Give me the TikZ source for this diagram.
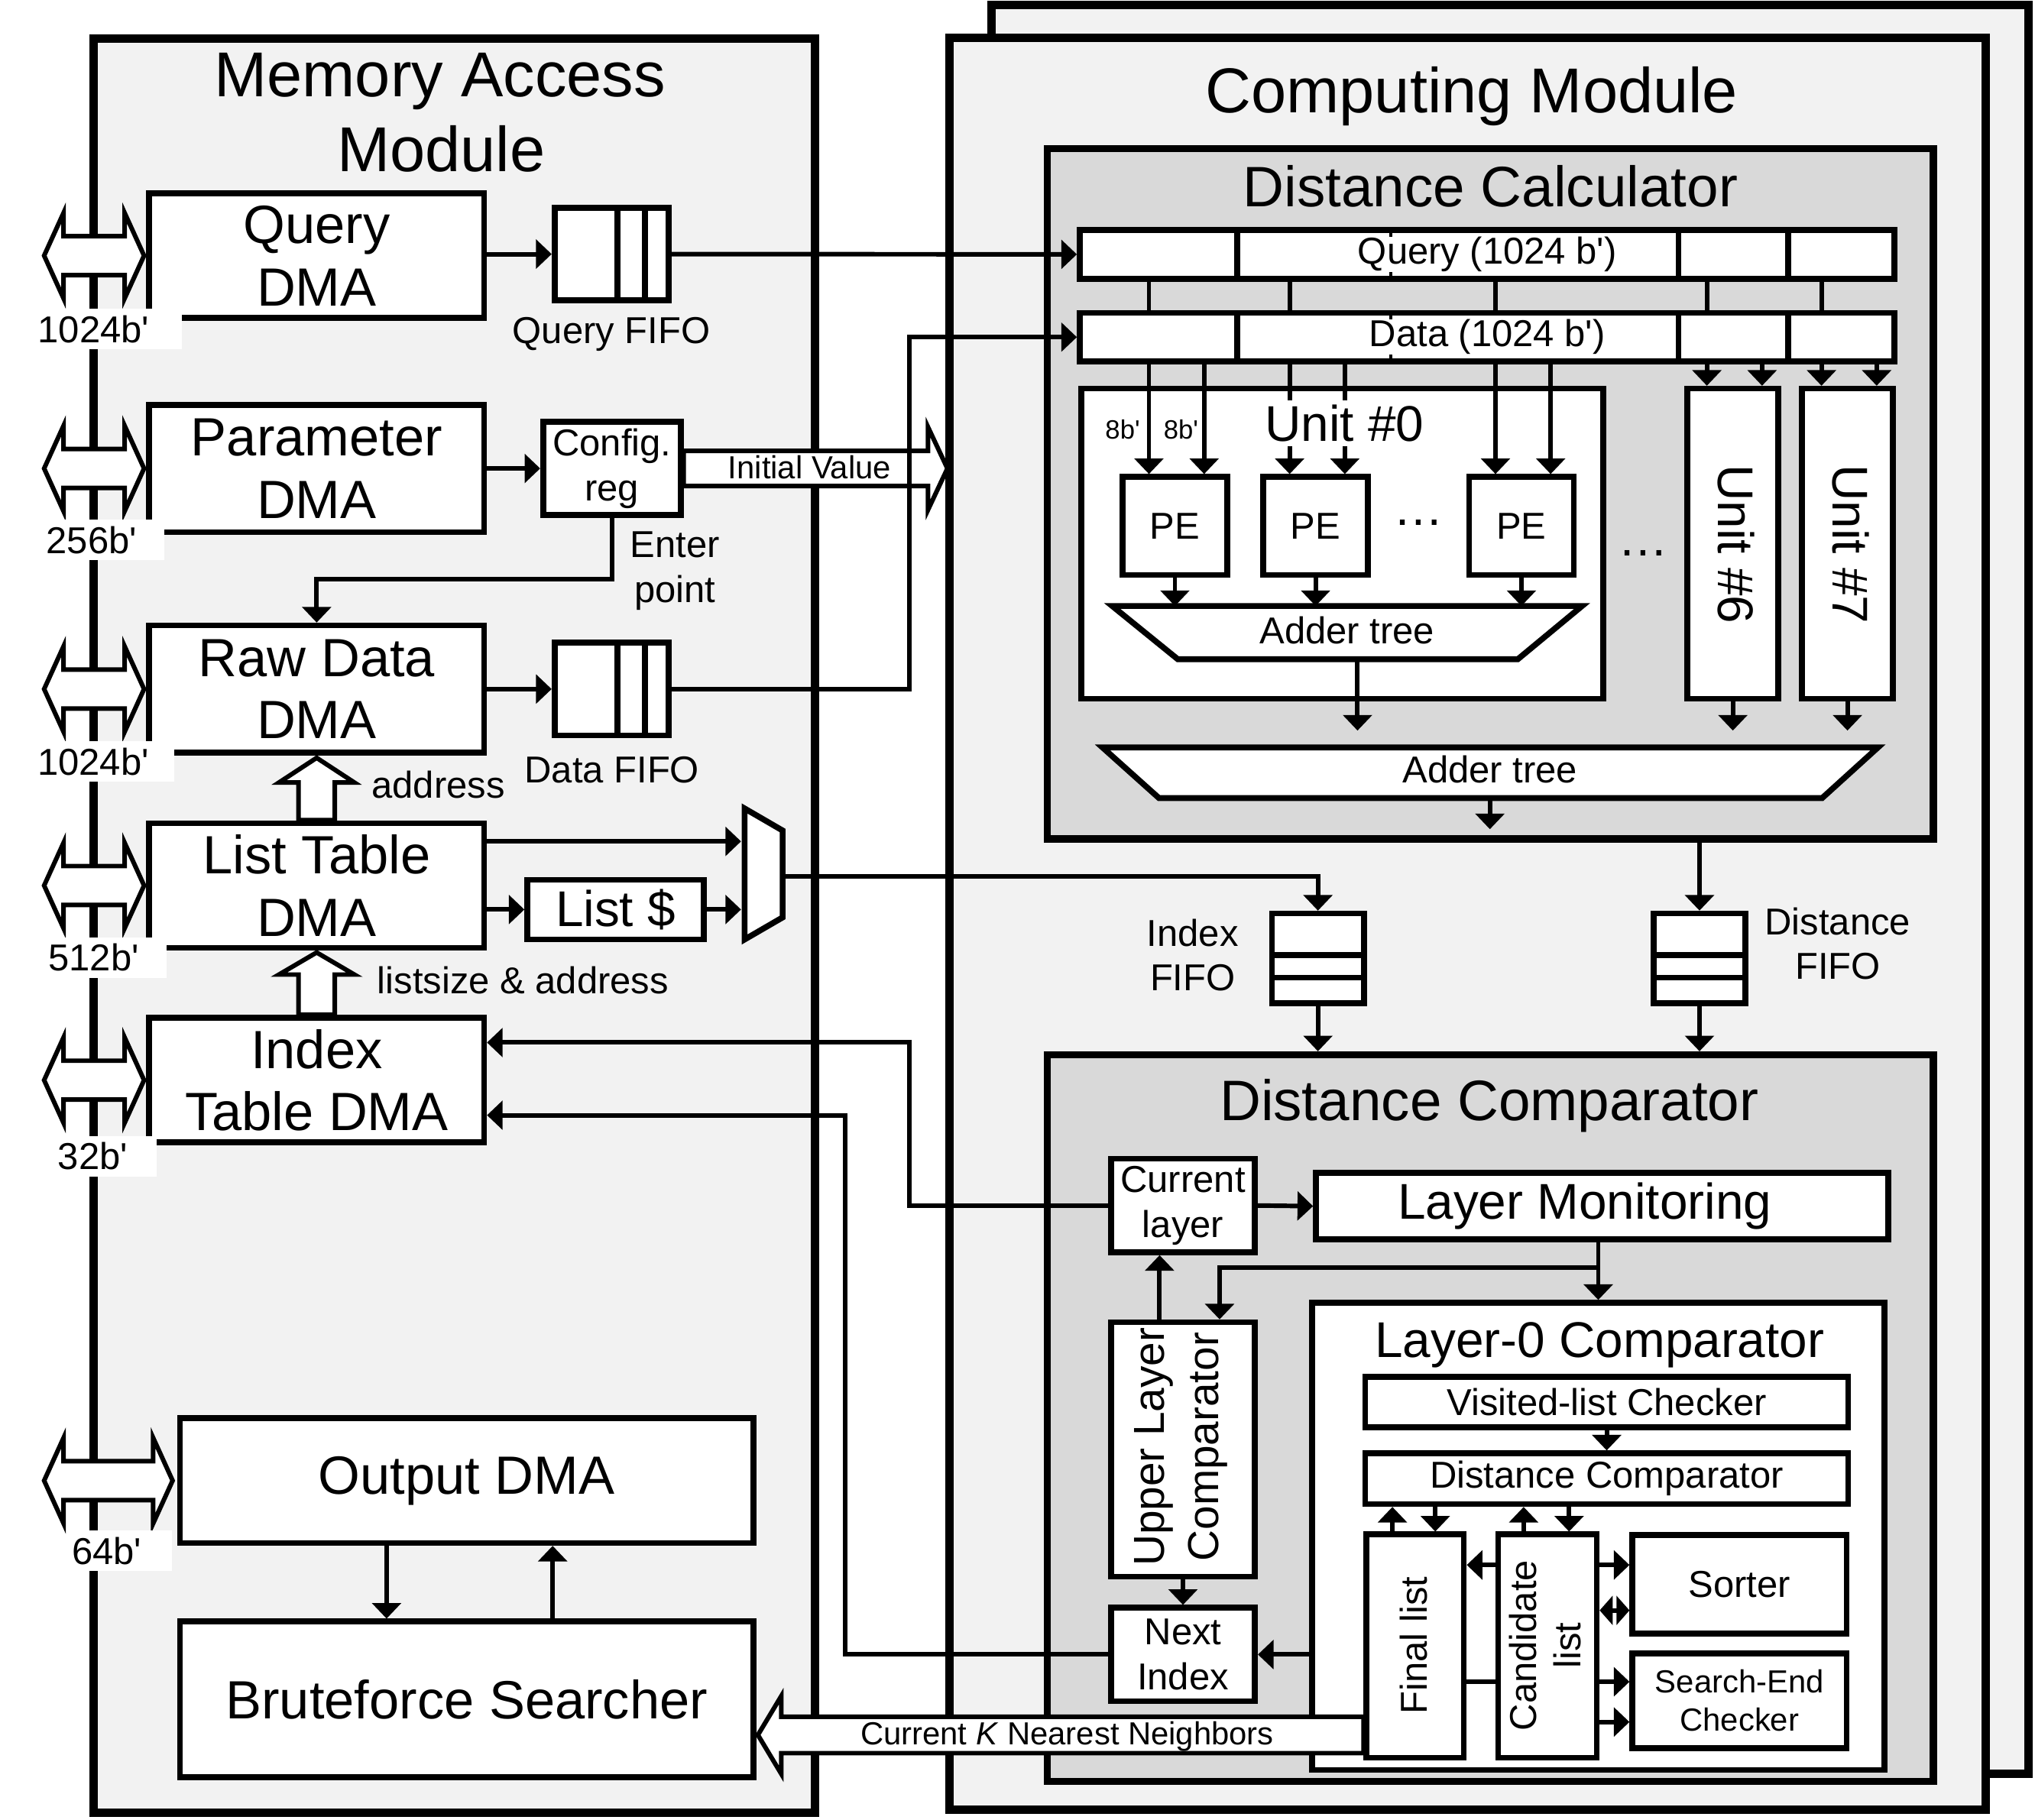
\documentclass[tikz,border=0pt]{standalone}
\usepackage{fontspec}
\setmainfont{Liberation Sans}
\usepackage{tikz}
\usetikzlibrary{arrows.meta, positioning}

\definecolor{panelgray}{HTML}{F2F2F2}
\definecolor{blockgray}{HTML}{D9D9D9}

% double headed port arrow: y, left tip, right tip
\newcommand{\busarrow}[3]{%
  \draw[hollow] (#2,#1) -- (#2+15,#1-33) -- (#2+15,#1-15) -- (#3-15,#1-15)
    -- (#3-15,#1-33) -- (#3,#1) -- (#3-15,#1+33) -- (#3-15,#1+15)
    -- (#2+15,#1+15) -- (#2+15,#1+33) -- cycle;}

\tikzset{
  sz/.style 2 args={minimum width=#1*0.01cm, minimum height=#2*0.01cm},
  blk/.style={draw, line width=0.045cm, fill=white, inner sep=0pt, align=center},
  modbox/.style={draw, line width=0.065cm, fill=panelgray, inner sep=0pt},
  subbox/.style={draw, line width=0.055cm, fill=blockgray, inner sep=0pt},
  wire/.style={line width=0.035cm},
  arr/.style={wire, -{Triangle[length=0.12cm, width=0.22cm]}},
  dblarr/.style={wire, {Triangle[length=0.1cm, width=0.22cm]}-{Triangle[length=0.1cm, width=0.22cm]}},
  hollow/.style={draw, line width=0.035cm, fill=white, line join=miter},
  buslbl/.style={fill=white, anchor=west, align=left, inner xsep=0.03cm, inner ysep=0.05cm},
  hfifo/.style={blk, path picture={
    \draw[line width=0.045cm]
      ([xshift=-0.394cm]path picture bounding box.north east) -- ([xshift=-0.394cm]path picture bounding box.south east)
      ([xshift=-0.184cm]path picture bounding box.north east) -- ([xshift=-0.184cm]path picture bounding box.south east);}},
  vfifo/.style={blk, path picture={
    \draw[line width=0.045cm]
      ([yshift=0.37cm]path picture bounding box.south west) -- ([yshift=0.37cm]path picture bounding box.south east)
      ([yshift=0.196cm]path picture bounding box.south west) -- ([yshift=0.196cm]path picture bounding box.south east);}},
  reg/.style={blk, path picture={
    \foreach \dx/\lw in {1.213/0.045cm, 2.396/0.025cm, 4.61/0.045cm, 5.455/0.045cm}
      \draw[line width=\lw] ([xshift=\dx cm]path picture bounding box.south west) -- ([xshift=\dx cm]path picture bounding box.north west);}},
  ftitle/.style={font=\fontsize{13.9}{16.7}\selectfont},
  fhead/.style={font=\fontsize{12.5}{15}\selectfont},
  fbox/.style={font=\fontsize{11.8}{13.7}\selectfont},
  fmid/.style={font=\fontsize{11}{13.2}\selectfont},
  fulc/.style={font=\fontsize{9.5}{12}\selectfont},
  fsml/.style={font=\fontsize{8.2}{9.8}\selectfont},
  fnote/.style={font=\fontsize{7}{8.3}\selectfont},
  fmicro/.style={font=\fontsize{5.8}{7}\selectfont},
}

\begin{document}
\begin{tikzpicture}[x=0.01cm, y=-0.01cm, every node/.style={align=center}]
    \useasboundingbox (0,0) rectangle (1568,1402);

    % 1. Modules
    \node[modbox, sz={799}{1363}] (cmback) at (1163.5,685.5) {};
    \node[modbox, sz={798.5}{1365.5}] (cm) at (1130.75,711.75) {};
    \node[modbox, sz={556}{1367}] (mam) at (350,713.5) {};
    \node[ftitle, anchor=base] (mamt1) at (339,74.4) {Memory Access};
    \node[ftitle, anchor=base] (mamt2) at (340,132) {Module};
    \node[ftitle, anchor=base] (cmt) at (1134,87) {Computing Module};

    % 2. Memory ports
    \busarrow{197}{34}{111}
    \busarrow{361}{34}{111}
    \busarrow{531}{34}{111}
    \busarrow{682.4}{34}{111}
    \busarrow{832.4}{34}{111}
    \busarrow{1141}{34}{133}

    % 3. DMA engines
    \node[blk, fbox, sz={258}{96}] (qdma) at (244,197) {Query\\DMA};
    \node[blk, fbox, sz={258}{98}] (pdma) at (244,361) {Parameter\\DMA};
    \node[blk, fbox, sz={258}{98}] (rdma) at (244,531) {Raw Data\\DMA};
    \node[blk, fbox, sz={258}{96}] (ldma) at (244,682.4) {List Table\\DMA};
    \node[blk, fbox, sz={258}{96}] (idma) at (244,832.4) {Index\\Table DMA};
    \node[blk, fbox, sz={442}{96}] (odma) at (359.6,1141) {Output DMA};
    \node[blk, fbox, sz={442}{120}] (bfs) at (359.6,1309.6) {Bruteforce Searcher};

    % 4. Buffers
    \node[hfifo, sz={88}{71.5}] (qfifo) at (471.3,195.8) {};
    \node[hfifo, sz={88}{71.5}] (dfifo) at (471.3,531) {};
    \node[blk, fsml, sz={106}{72}] (cfg) at (471.5,361) {Config.\\reg};
    \node[blk, fmid, sz={136}{46}] (lcache) at (474.3,700.9) {List \$};
    \draw[line width=0.045cm, fill=white] (573.7,623) -- (603,640) -- (603,707) -- (573.7,724) -- cycle;
    \coordinate (muxa) at (571,648.4);
    \coordinate (muxb) at (571,700.9);
    \coordinate (muxo) at (603,675.5);
    \node[fsml, anchor=base] (qfifol) at (471,264.5) {Query FIFO};
    \node[fsml, anchor=base] (dfifol) at (471.5,603) {Data FIFO};
    \node[fsml] (enterl) at (520,440) {Enter\\point};
    \node[fsml, anchor=base] (addrl) at (337.7,615) {address};
    \node[fsml, anchor=base] (lsizel) at (403,766) {listsize \& address};

    % 5. Wires inside the memory module
    \draw[arr] (qdma.east |- qfifo.west) -- (qfifo.west);
    \draw[arr] (pdma.east) -- (cfg.west);
    \draw[arr] (rdma.east) -- (dfifo.west);
    \draw[arr] (cfg.south) -- ++(0,47) -| (rdma.north);
    \draw[arr] (ldma.east |- muxa) -- (muxa);
    \draw[arr] (ldma.east |- lcache.west) -- (lcache.west);
    \draw[arr] (lcache.east) -- (muxb);
    \draw[arr] ([xshift=-0.617cm]odma.south) -- ([xshift=-0.617cm]odma.south |- bfs.north);
    \draw[arr] ([xshift=0.662cm]bfs.north) -- ([xshift=0.662cm]bfs.north |- odma.south);

    % 6. Distance calculator
    \node[subbox, sz={682.7}{531.8}] (dcalc) at (1148.3,380.5) {};
    \node[fhead, anchor=base] (dcalct) at (1148.5,159) {Distance Calculator};
    \node[reg, sz={627.5}{37.5}] (qreg) at (1145.75,196) {};
    \node[blk, sz={402.5}{239}] (unit0) at (1034.25,419) {};
    \node[blk, fsml, sz={80.6}{75.5}] (pe1) at (905.3,405.3) {PE};
    \node[blk, fsml, sz={80.6}{75.5}] (pe2) at (1013.7,405.3) {PE};
    \node[blk, fsml, sz={80.6}{75.5}] (pe3) at (1172.3,405.3) {PE};
    \node[blk, sz={70}{239}] (u6) at (1335.2,419) {};
    \node[blk, sz={70}{239}] (u7) at (1423.5,419) {};
    \foreach \u in {pe1,pe2,pe3,u6,u7}
        \draw[arr] ([xshift=-0.2cm]\u.north |- qreg.south) -- ([xshift=-0.2cm]\u.north);
    \node[reg, sz={627.5}{37.5}] (dreg) at (1145.75,259.8) {};
    \foreach \u in {pe1,pe2,pe3,u6,u7}
        \draw[arr] ([xshift=0.225cm]\u.north |- dreg.south) -- ([xshift=0.225cm]\u.north);
    \node[fsml, fill=white, inner sep=0pt] (qregt) at (1146,196) {Query (1024 b\textquotesingle)};
    \node[fsml, fill=white, inner sep=0pt] (dregt) at (1146,259.8) {Data (1024 b\textquotesingle)};
    \node[fmicro] (w8a) at (865,331) {8b\textquotesingle};
    \node[fmicro] (w8b) at (910,331) {8b\textquotesingle};
    \node[fmid, fill=white, inner sep=1pt, anchor=base] (unit0t) at (1036,340) {Unit \#0};
    \node[fmid] (pedots) at (1093,403) {\dots};
    \node[fmid] (udots) at (1266,426) {\dots};
    \node[fmid, rotate=-90] (u6t) at (1338,419.4) {Unit \#6};
    \node[fmid, rotate=-90] (u7t) at (1426,419.4) {Unit \#7};

    \draw[line width=0.045cm, fill=white] (857,467) -- (1219,467) -- (1169.5,508) -- (907.5,508) -- cycle;
    \node[fsml, anchor=base] (add0) at (1038,496) {Adder tree};
    \coordinate (atin) at (1038,467);
    \foreach \u in {pe1,pe2,pe3}
        \draw[arr] (\u.south) -- (\u.south |- atin);
    \coordinate (atout) at (1046,508);
    \coordinate (sumin) at (1148,563);
    \draw[arr] (atout) -- (atout |- sumin);
    \draw[arr] (u6.south) -- (u6.south |- sumin);
    \draw[arr] (u7.south) -- (u7.south |- sumin);
    \draw[line width=0.045cm, fill=white] (849.5,576) -- (1447,576) -- (1404,615) -- (893,615) -- cycle;
    \node[fsml, anchor=base] (add1) at (1148,603.3) {Adder tree};
    \coordinate (sumout) at (1148,615);
    \draw[arr] (sumout) -- ++(0,24);

    % 7. Result FIFOs
    \node[vfifo, sz={71}{69}] (ififo) at (1015.5,738.5) {};
    \node[vfifo, sz={71}{69}] (distf) at (1309.5,738.5) {};
    \node[fsml] (ififol) at (919,736) {Index\\FIFO};
    \node[fsml] (distfl) at (1416,727.3) {Distance\\FIFO};
    \draw[arr] (muxo) -| (ififo.north);
    \draw[arr] (dcalc.south -| distf.north) -- (distf.north);

    % 8. Distance comparator
    \node[subbox, sz={682.7}{560}] (dcomp) at (1148.3,1092.9) {};
    \draw[arr] (ififo.south) -- (ififo.south |- dcomp.north);
    \draw[arr] (distf.south) -- (distf.south |- dcomp.north);
    \node[fhead, anchor=base] (dcompt) at (1147.5,863.4) {Distance Comparator};
    \node[blk, fsml, sz={111}{72}] (curl) at (911.5,929) {Current\\layer};
    \node[blk, sz={441}{51}] (laymon) at (1234.5,929.5) {};
    \node[fmid] (laymont) at (1221,929.5) {Layer Monitoring};
    \node[blk, sz={111}{196}] (ulc) at (911.5,1117) {};
    \node[fulc, rotate=90] (ulct) at (910,1115) {Upper Layer\\Comparator};
    \node[blk, fsml, sz={111}{72}] (nidx) at (911.5,1275) {Next\\Index};
    \node[blk, sz={441}{360}] (lzero) at (1231.5,1184) {};
    \node[fmid, anchor=base] (lzerot) at (1232.6,1045.9) {Layer-0 Comparator};
    \node[blk, fsml, sz={372}{39}] (visit) at (1238,1080.5) {Visited-list Checker};
    \node[blk, fsml, sz={372}{39}] (dcin) at (1238,1139.5) {Distance Comparator};
    \node[blk, sz={75}{172}] (final) at (1090.4,1268.5) {};
    \node[fsml, rotate=90] (finalt) at (1089,1268) {Final list};
    \node[blk, sz={76}{172}] (cand) at (1192.3,1268.5) {};
    \node[fsml, rotate=90] (candt) at (1190.6,1268) {Candidate\\list};
    \node[blk, fsml, sz={165}{76}] (sorter) at (1340.3,1221) {Sorter};
    \node[blk, fnote, sz={165}{73}] (sechk) at (1340.3,1310.5) {Search-End\\Checker};

    \draw[arr] (curl.east) -- (laymon.west);
    \coordinate (brk) at (1231.5,977);
    \draw[arr] (lzero.north |- laymon.south) -- (lzero.north);
    \draw[arr] (brk) -| ([xshift=0.282cm]ulc.north);
    \draw[arr] ([xshift=-0.18cm]ulc.north) -- ([xshift=-0.18cm]ulc.north |- curl.south);
    \draw[arr] (ulc.south) -- (nidx.north);
    \draw[arr] (lzero.west |- nidx.east) -- (nidx.east);
    \draw[arr] (visit.south) -- (dcin.north);
    \draw[arr] ([xshift=-0.175cm]final.north) -- ([xshift=-0.175cm]final.north |- dcin.south);
    \draw[arr] ([xshift=0.155cm]final.north |- dcin.south) -- ([xshift=0.155cm]final.north);
    \draw[arr] ([xshift=-0.183cm]cand.north) -- ([xshift=-0.183cm]cand.north |- dcin.south);
    \draw[arr] ([xshift=0.167cm]cand.north |- dcin.south) -- ([xshift=0.167cm]cand.north);
    \draw[arr] (cand.west |- 0,1206) -- (final.east |- 0,1206);
    \draw[wire] (final.east |- 0,1296) -- (cand.west |- 0,1296);
    \draw[arr] (cand.east |- 0,1206) -- (sorter.west |- 0,1206);
    \draw[dblarr] (cand.east |- 0,1241) -- (sorter.west |- 0,1241);
    \draw[arr] (cand.east |- 0,1296) -- (sechk.west |- 0,1296);
    \draw[arr] (cand.east |- 0,1327) -- (sechk.west |- 0,1327);

    % 9. Wide arrows
    \draw[hollow] (244,584) -- (273,603) -- (258,603) -- (258,632) -- (230,632) -- (230,603) -- (215,603) -- cycle;
    \draw[hollow] (244,734) -- (273,751) -- (258,751) -- (258,782) -- (230,782) -- (230,751) -- (215,751) -- cycle;
    \draw[hollow] (cfg.east |- 0,347.5) -- (715,347.5) -- (715,329) -- (730,361) -- (715,393) -- (715,374.5) -- (cfg.east |- 0,374.5) -- cycle;
    \node[fnote, anchor=base] (initl) at (623.8,369) {Initial Value};

    % 10. Wires between the modules
    \draw[arr] (qfifo.east) -- (qreg.west);
    \coordinate (bendD) at (700.7,259.8);
    \draw[arr] (dfifo.east) -| (bendD) -- (dreg.west);
    \coordinate (bendA) at (700.7,803.4);
    \draw[arr] (curl.west) -| (bendA) -- (idma.east |- bendA);
    \coordinate (bendB) at (651,859.4);
    \draw[arr] (nidx.west) -| (bendB) -- (idma.east |- bendB);

    % 11. Result path back to memory module
    \draw[hollow] (584,1337) -- (602,1307) -- (602,1323) -- (final.west |- 0,1323) -- (final.west |- 0,1351) -- (602,1351) -- (602,1367) -- cycle;
    \node[fnote, anchor=base] (knnt) at (822.3,1344.5) {Current \textit{K} Nearest Neighbors};

    % 12. Port widths
    \node[buslbl, fsml, text width=1.08cm] (pw1) at (25.5,253.5) {1024b\textquotesingle};
    \node[buslbl, fsml, text width=0.88cm] (pw2) at (32,416) {256b\textquotesingle};
    \node[buslbl, fsml, text width=1.02cm] (pw3) at (25.3,586.8) {1024b\textquotesingle};
    \node[buslbl, fsml, text width=0.88cm] (pw4) at (33.6,738) {512b\textquotesingle};
    \node[buslbl, fsml, text width=0.73cm] (pw5) at (41,891) {32b\textquotesingle};
    \node[buslbl, fsml, text width=0.74cm] (pw6) at (51.7,1195) {64b\textquotesingle};
\end{tikzpicture}
\end{document}
